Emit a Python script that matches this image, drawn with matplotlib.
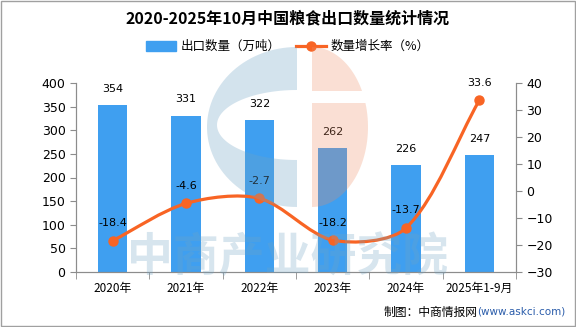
import numpy as np
import matplotlib
matplotlib.use('Agg')
import matplotlib.pyplot as plt
from matplotlib.path import Path
from matplotlib.patches import PathPatch, Rectangle, Patch
from matplotlib.lines import Line2D
from matplotlib.transforms import IdentityTransform

plt.rcParams['font.family'] = ['Noto Sans CJK SC', 'DejaVu Sans']

# data
categories = ['2020年', '2021年', '2022年', '2023年', '2024年', '2025年1-9月']
export_volume = [354, 331, 322, 262, 226, 247]          # 万吨
growth_rate = [-18.4, -4.6, -2.7, -18.2, -13.7, 33.6]   # %

bar_color = '#3f9ff0'
line_color = '#f86424'
axis_gray = '#8c8c8c'

W, H = 576, 327
fig = plt.figure(figsize=(W / 100, H / 100), dpi=100)
ax = fig.add_axes([76 / W, 1 - 272 / H, 440 / W, 189 / H])
ax2 = ax.twinx()

x = np.arange(len(categories))
ax.bar(x, export_volume, width=0.4, color=bar_color, zorder=2)
for xi, v in zip(x, export_volume):
    ax.annotate(f'{v}', (xi, v), xytext=(0, 8), textcoords='offset points',
                ha='center', va='bottom', fontsize=8, family='DejaVu Sans')

ax.set_xlim(-0.5, len(categories) - 0.5)
ax.set_ylim(0, 400)
ax.set_yticks(np.arange(0, 401, 50))
ax2.set_ylim(-30, 40)
ax2.set_yticks(np.arange(-30, 41, 10))

# smooth growth line, bezier control points worked out in screen space
pts = ax2.transData.transform(np.column_stack([x, growth_rate]))
n = len(pts)
smooth = 0.3
cp_in, cp_out = [], []
for i in range(n):
    prev_p = pts[i - 1] if i > 0 else pts[i]
    next_p = pts[i + 1] if i < n - 1 else pts[i]
    v = next_p - prev_p
    d0 = np.hypot(*(pts[i] - prev_p))
    d1 = np.hypot(*(next_p - pts[i]))
    tot = d0 + d1 if d0 + d1 > 0 else 1
    cp_in.append(pts[i] - v * smooth * d0 / tot)
    cp_out.append(pts[i] + v * smooth * d1 / tot)
verts = [pts[0]]
codes = [Path.MOVETO]
for i in range(n - 1):
    verts += [cp_out[i], cp_in[i + 1], pts[i + 1]]
    codes += [Path.CURVE4] * 3
verts = ax2.transData.inverted().transform(np.array(verts))
ax2.add_patch(PathPatch(Path(verts, codes), facecolor='none', edgecolor=line_color,
                        lw=2.3, zorder=3))
ax2.plot(x, growth_rate, 'o', color=line_color, markersize=6.5, zorder=4)
for xi, v in zip(x, growth_rate):
    ax2.annotate(f'{v}', (xi, v), xytext=(0, 9), textcoords='offset points',
                 ha='center', va='bottom', fontsize=8, family='DejaVu Sans')

# axes styling
for a in (ax, ax2):
    a.spines['top'].set_visible(False)
    for s in ('left', 'right', 'bottom'):
        a.spines[s].set_color(axis_gray)
    a.tick_params(axis='y', colors=axis_gray, length=4, labelcolor='black', labelsize=9)
    for lab in a.get_yticklabels():
        lab.set_family('DejaVu Sans')
ax.set_xticks(x)
ax.set_xticklabels(categories, fontsize=8.5)
ax.set_xticks(np.arange(-0.5, len(categories)), minor=True)
ax.tick_params(axis='x', which='major', length=0, pad=7)
ax.tick_params(axis='x', which='minor', length=5, color=axis_gray)
ax2.set_zorder(ax.get_zorder() + 1)
ax2.patch.set_visible(False)

# title and legend
fig.text(0.5, 0.945, '2020-2025年10月中国粮食出口数量统计情况', ha='center', va='center',
         fontsize=11.5, fontweight='bold')
handles = [Patch(color=bar_color),
           Line2D([0], [0], color=line_color, lw=2.3, marker='o', markersize=6.5)]
fig.legend(handles, ['出口数量（万吨）', '数量增长率（%）'], loc='center',
           bbox_to_anchor=(0.5, 0.857), ncol=2, frameon=False, fontsize=9,
           handlelength=2.4, handleheight=0.8, columnspacing=1.2, handletextpad=0.4)

# watermark logo (pixel coords measured from the top)
def to_disp(px, py):
    return np.column_stack([px, H - np.asarray(py)])

logo_blue = (0.44, 0.64, 0.77, 0.30)
logo_peach = (0.93, 0.55, 0.38, 0.27)
ident = IdentityTransform()

# blue "C": outer left half ellipse minus inner half ellipse
phi = np.linspace(-np.pi / 2, np.pi / 2, 60)
ox = 297 - 90 * np.cos(phi)
oy = 127 + 80 * np.sin(phi)
ix = 297 - 80 * np.cos(phi[::-1])
iy = 125 + 35 * np.sin(phi[::-1])
c_shape = to_disp(np.r_[ox, ix], np.r_[oy, iy])
fig.patches.append(PathPatch(Path(np.vstack([c_shape, c_shape[:1]]), closed=True),
                             facecolor=logo_blue, edgecolor='none',
                             transform=ident, zorder=10))

# peach right half ellipse, split by a white band
def peach_piece(y_from, y_to):
    a0 = np.arcsin(np.clip((y_from - 127) / 80, -1, 1))
    a1 = np.arcsin(np.clip((y_to - 127) / 80, -1, 1))
    t = np.linspace(a0, a1, 40)
    px = np.r_[312, 312 + 56 * np.cos(t), 312]
    py = np.r_[y_from, 127 + 80 * np.sin(t), y_to]
    return to_disp(px, py)

for y0, y1 in ((47, 91), (103, 207)):
    pc = peach_piece(y0, y1)
    fig.patches.append(PathPatch(Path(np.vstack([pc, pc[:1]]), closed=True),
                                 facecolor=logo_peach, edgecolor='none',
                                 transform=ident, zorder=10))

fig.text(0.5, 1 - 258 / H, '中商产业研究院', ha='center', va='center', fontsize=33,
         fontweight='bold', color=(0.44, 0.64, 0.77, 0.28), zorder=10)

# source note
t2 = fig.text(0.982, 1 - 312 / H, '(www.askci.com)', ha='right', va='center',
              fontsize=7.5, color='#2a5caa', family='DejaVu Sans')
ax.annotate('制图：中商情报网', xy=(0, 0.5), xycoords=t2, ha='right', va='center',
            fontsize=8.5, annotation_clip=False)

fig.patches.append(Rectangle((0.001, 0.002), 0.997, 0.995, transform=fig.transFigure,
                             fill=False, edgecolor='#a0a0a0', lw=1))

fig.savefig('out.png', dpi=100)
